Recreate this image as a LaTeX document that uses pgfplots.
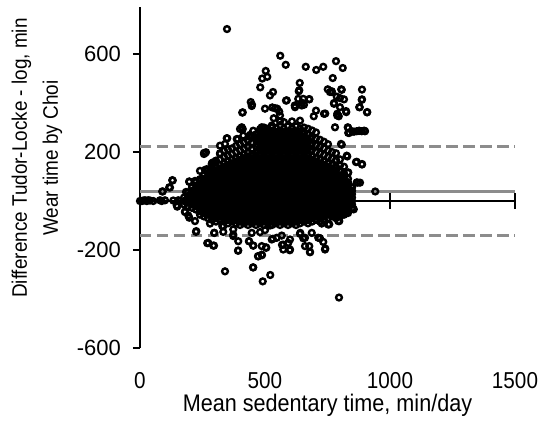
\documentclass[border=0pt]{standalone}
\usepackage{pgfplots}
\pgfplotsset{compat=1.18}
\usepackage{fontspec}
\setmainfont{Liberation Sans}[FakeStretch=0.9]
\newfontfamily\ytickfont{Liberation Sans}
\definecolor{refgray}{RGB}{140,140,140}

\begin{document}
\begin{tikzpicture}
\path[use as bounding box] (-140pt,-74pt) rectangle (403pt,348pt);
\begin{axis}[
    scale only axis,
    width=375pt, height=341pt,
    xmin=0, xmax=1500, ymin=-600, ymax=792,
    clip=false,
    axis lines*=left,
    axis line style={line width=1.3pt, black},
    x axis line style={draw=none},
    xtick={0,500,1000,1500},
    ytick={-600,-200,200,600},
    xtick style={draw=none},
    ytick style={line width=1.3pt, black},
    tick align=outside,
    major tick length=7pt,
    /pgf/number format/assume math mode=true,
    /pgf/number format/1000 sep={},
    xticklabel style={font=\fontsize{23}{27}\selectfont, anchor=base, inner sep=0pt, yshift=-34pt},
    yticklabel style={font=\ytickfont\fontsize{22}{26}\selectfont, anchor=east, inner sep=0pt, xshift=-12pt},
    xlabel={Mean sedentary time, min/day},
    xlabel style={font=\fontsize{24}{28}\selectfont, at={(axis description cs:0.5,0)}, anchor=base, inner sep=0pt, yshift=-63.5pt},
    ylabel={Difference Tudor-Locke - log, min\\Wear time by Choi},
    ylabel style={font=\fontsize{21}{31}\selectfont, align=center, at={(axis description cs:-0.275,0.557)}, anchor=center},
]
% mean and limits of agreement
\addplot[refgray, line width=3.3pt] coordinates {(0,40) (1500,40)};
\addplot[refgray, line width=3.3pt, dash pattern=on 11.5pt off 5.5pt] coordinates {(0,222) (1500,222)};
\addplot[refgray, line width=3.3pt, dash pattern=on 11.5pt off 5.5pt] coordinates {(0,-142) (1500,-142)};

% zero line with cross ticks
\draw[line width=1.3pt] (axis cs:0,0) -- (axis cs:1500,0);
\pgfplotsinvokeforeach{500,1000,1500}{
  \draw[line width=1.3pt] (axis cs:#1,-33) -- (axis cs:#1,33);
}

% individual participants
\addplot[only marks, mark=o, mark size=2.9pt, mark options={line width=2.4pt, black}] coordinates {
(348,702) (561,593) (583,556) (663,548) (705,535) (733,548) (784,571) (811,543) (503,531) (489,500) (509,507) (771,502)
(481,464) (532,445) (639,482) (637,452) (677,416) (751,456) (760,445) (805,456) (800,420) (816,415) (888,455) (888,415)
(879,383) (908,362) (411,362) (443,404) (448,393) (500,377) (529,382) (549,377) (587,411) (619,390) (648,401) (656,393)
(695,346) (741,357) (795,346) (825,363) (411,294) (481,294) (528,301) (560,325) (535,338) (831,301) (849,284) (876,286)
(899,286) (347,256) (391,253) (436,263) (256,196) (264,199) (864,159) (888,149) (827,185) (867,76) (941,39) (131,84)
(117,56) (89,39) (855,-34)
(225,-123) (269,-172) (296,-182) (340,-287) (392,-203) (452,-271) (491,-328) (521,-302) (472,-225) (488,-221) (436,-164)
(453,-182) (505,-191) (568,-179) (573,-198) (599,-201) (677,-184) (680,-208) (741,-194) (796,-394) (720,-152) (653,-152)
(531,-154) (373,-143) (297,-130) (329,-102) (373,-116) (641,-130) (757,-95) (793,-82) (853,-31) (827,-48)
(0,0) (7,0) (13,2) (20,3) (27,0) (33,3) (40,2) (53,0) (80,3) (87,0) (100,3) (133,2) (153,3) (160,0) (149,-23) (180,-45)
(197,-68) (197,78) (184,37) (147,-18)
(520,431) (635,448) (633,417) (767,448) (584,410) (653,417) (677,415) (447,388) (409,361) (540,379) (557,365) (560,349)
(620,383) (647,390) (704,369) (736,356) (776,397) (789,356) (787,426) (407,301) (487,301) (527,308) (640,328)
(807,454) (767,445) (887,413) (776,400) (877,383) (909,363) (800,383) (824,367) (789,349) (833,298) (856,283) (877,287)
(896,287) (833,278) (807,230) (780,301)
(837,278) (867,285) (887,285) (900,285) (804,233) (867,160) (888,151) (829,182) (833,117) (871,75) (847,55) (816,69)
(784,89) (880,75)
(129,85) (120,55) (91,39) (197,80) (240,123) (260,127) (260,196) (256,192) (320,226) (349,256) (400,294) (220,82)
(240,89) (287,151) (300,158)
(180,-43) (193,-59) (220,-82) (224,-126) (280,-92) (297,-130) (273,-171) (293,-182) (333,-103) (333,-126) (373,-137)
(393,-164) (393,-202) (436,-164) (453,-182) (453,-271) (473,-226) (487,-219) (487,-184) (504,-189) (527,-157) (547,-150)
(567,-141) (573,-178) (593,-171) (600,-198) (447,-130) (480,-127) (500,-119) (520,-100)
(600,-157) (660,-184) (680,-209) (640,-134) (660,-150) (687,-130) (713,-150) (733,-167) (740,-198) (727,-92) (753,-96)
(797,-82) (800,-55) (820,-48)
(320,192) (293,158) (267,130) (280,117) (293,103) (253,89) (273,82) (340,233) (387,253) (413,267) (440,270) (473,274)
(453,287) (507,281) (553,283) (587,281)
% upper part of the cloud
(472,205) (472,231) (472,257) (488,205) (488,231) (488,257) (488,283) (504,205) (504,231) (504,257) (504,283)
(520,205) (520,231) (520,257) (520,283) (536,205) (536,231) (536,257) (536,283) (552,205) (552,231) (552,257) (552,283)
(568,205) (568,231) (568,257) (568,283) (584,205) (584,231) (584,257) (584,283) (600,205) (600,231) (600,257) (600,283)
(616,205) (616,231) (616,257) (616,283) (632,205) (632,231) (632,257) (632,283) (648,205) (648,231) (648,257) (648,283)
(664,205) (664,231) (664,257) (680,205) (680,231) (680,257)
% dense core
(176,-14) (176,0) (176,14)
(192,-21) (192,-7) (192,7) (192,21) (192,35)
(208,-28) (208,-14) (208,0) (208,14) (208,28) (208,42) (208,56)
(224,-35) (224,-21) (224,-7) (224,7) (224,21) (224,35) (224,49) (224,63) (224,77)
(240,-56) (240,-42) (240,-28) (240,-14) (240,0) (240,14) (240,28) (240,42) (240,56) (240,70) (240,84)
(256,-63) (256,-49) (256,-35) (256,-21) (256,-7) (256,7) (256,21) (256,35) (256,49) (256,63) (256,77) (256,91) (256,105)
(272,-70) (272,-56) (272,-42) (272,-28) (272,-14) (272,0) (272,14) (272,28) (272,42) (272,56) (272,70) (272,84) (272,98) (272,112) (272,126)
(288,-77) (288,-63) (288,-49) (288,-35) (288,-21) (288,-7) (288,7) (288,21) (288,35) (288,49) (288,63) (288,77) (288,91) (288,105) (288,119) (288,133) (288,155)
(304,-84) (304,-70) (304,-56) (304,-42) (304,-28) (304,-14) (304,0) (304,14) (304,28) (304,42) (304,56) (304,70) (304,84) (304,98) (304,112) (304,126) (304,140) (304,165)
(320,-77) (320,-63) (320,-49) (320,-35) (320,-21) (320,-7) (320,7) (320,21) (320,35) (320,49) (320,63) (320,77) (320,91) (320,105) (320,119) (320,133) (320,147) (320,170) (320,195)
(336,-84) (336,-70) (336,-56) (336,-42) (336,-28) (336,-14) (336,0) (336,14) (336,28) (336,42) (336,56) (336,70) (336,84) (336,98) (336,112) (336,126) (336,140) (336,154) (336,180) (336,205)
(352,-91) (352,-77) (352,-63) (352,-49) (352,-35) (352,-21) (352,-7) (352,7) (352,21) (352,35) (352,49) (352,63) (352,77) (352,91) (352,105) (352,119) (352,133) (352,147) (352,161) (352,185) (352,210)
(368,-84) (368,-70) (368,-56) (368,-42) (368,-28) (368,-14) (368,0) (368,14) (368,28) (368,42) (368,56) (368,70) (368,84) (368,98) (368,112) (368,126) (368,140) (368,154) (368,168) (368,192) (368,215)
(384,-91) (384,-77) (384,-63) (384,-49) (384,-35) (384,-21) (384,-7) (384,7) (384,21) (384,35) (384,49) (384,63) (384,77) (384,91) (384,105) (384,119) (384,133) (384,147) (384,161) (384,175) (384,200) (384,225)
(400,-98) (400,-84) (400,-70) (400,-56) (400,-42) (400,-28) (400,-14) (400,0) (400,14) (400,28) (400,42) (400,56) (400,70) (400,84) (400,98) (400,112) (400,126) (400,140) (400,154) (400,168) (400,182) (400,207) (400,232)
(416,-91) (416,-77) (416,-63) (416,-49) (416,-35) (416,-21) (416,-7) (416,7) (416,21) (416,35) (416,49) (416,63) (416,77) (416,91) (416,105) (416,119) (416,133) (416,147) (416,161) (416,175) (416,189) (416,213) (416,238)
(432,-98) (432,-84) (432,-70) (432,-56) (432,-42) (432,-28) (432,-14) (432,0) (432,14) (432,28) (432,42) (432,56) (432,70) (432,84) (432,98) (432,112) (432,126) (432,140) (432,154) (432,168) (432,182) (432,196) (432,220) (432,245)
(448,-91) (448,-77) (448,-63) (448,-49) (448,-35) (448,-21) (448,-7) (448,7) (448,21) (448,35) (448,49) (448,63) (448,77) (448,91) (448,105) (448,119) (448,133) (448,147) (448,161) (448,175) (448,189) (448,214) (448,240) (448,265)
(464,-98) (464,-84) (464,-70) (464,-56) (464,-42) (464,-28) (464,-14) (464,0) (464,14) (464,28) (464,42) (464,56) (464,70) (464,84) (464,98) (464,112) (464,126) (464,140) (464,154) (464,168) (464,182) (464,196) (464,222) (464,248) (464,272)
(480,-91) (480,-77) (480,-63) (480,-49) (480,-35) (480,-21) (480,-7) (480,7) (480,21) (480,35) (480,49) (480,63) (480,77) (480,91) (480,105) (480,119) (480,133) (480,147) (480,161) (480,175) (480,189) (480,215) (480,240) (480,265) (480,290)
(496,-98) (496,-84) (496,-70) (496,-56) (496,-42) (496,-28) (496,-14) (496,0) (496,14) (496,28) (496,42) (496,56) (496,70) (496,84) (496,98) (496,112) (496,126) (496,140) (496,154) (496,168) (496,182) (496,196) (496,222) (496,248) (496,275) (496,300)
(512,-91) (512,-77) (512,-63) (512,-49) (512,-35) (512,-21) (512,-7) (512,7) (512,21) (512,35) (512,49) (512,63) (512,77) (512,91) (512,105) (512,119) (512,133) (512,147) (512,161) (512,175) (512,189) (512,215) (512,242) (512,268) (512,295)
(528,-98) (528,-84) (528,-70) (528,-56) (528,-42) (528,-28) (528,-14) (528,0) (528,14) (528,28) (528,42) (528,56) (528,70) (528,84) (528,98) (528,112) (528,126) (528,140) (528,154) (528,168) (528,182) (528,196) (528,222) (528,250) (528,278) (528,305)
(544,-91) (544,-77) (544,-63) (544,-49) (544,-35) (544,-21) (544,-7) (544,7) (544,21) (544,35) (544,49) (544,63) (544,77) (544,91) (544,105) (544,119) (544,133) (544,147) (544,161) (544,175) (544,189) (544,216) (544,243) (544,270) (544,298)
(560,-98) (560,-84) (560,-70) (560,-56) (560,-42) (560,-28) (560,-14) (560,0) (560,14) (560,28) (560,42) (560,56) (560,70) (560,84) (560,98) (560,112) (560,126) (560,140) (560,154) (560,168) (560,182) (560,196) (560,224) (560,252) (560,280) (560,310)
(576,-91) (576,-77) (576,-63) (576,-49) (576,-35) (576,-21) (576,-7) (576,7) (576,21) (576,35) (576,49) (576,63) (576,77) (576,91) (576,105) (576,119) (576,133) (576,147) (576,161) (576,175) (576,189) (576,215) (576,241) (576,268) (576,295) (576,322)
(592,-98) (592,-84) (592,-70) (592,-56) (592,-42) (592,-28) (592,-14) (592,0) (592,14) (592,28) (592,42) (592,56) (592,70) (592,84) (592,98) (592,112) (592,126) (592,140) (592,154) (592,168) (592,182) (592,196) (592,222) (592,250) (592,278) (592,305)
(608,-91) (608,-77) (608,-63) (608,-49) (608,-35) (608,-21) (608,-7) (608,7) (608,21) (608,35) (608,49) (608,63) (608,77) (608,91) (608,105) (608,119) (608,133) (608,147) (608,161) (608,175) (608,189) (608,216) (608,243) (608,270) (608,298) (608,325)
(624,-98) (624,-84) (624,-70) (624,-56) (624,-42) (624,-28) (624,-14) (624,0) (624,14) (624,28) (624,42) (624,56) (624,70) (624,84) (624,98) (624,112) (624,126) (624,140) (624,154) (624,168) (624,182) (624,196) (624,222) (624,250) (624,278) (624,305)
(640,-91) (640,-77) (640,-63) (640,-49) (640,-35) (640,-21) (640,-7) (640,7) (640,21) (640,35) (640,49) (640,63) (640,77) (640,91) (640,105) (640,119) (640,133) (640,147) (640,161) (640,175) (640,189) (640,215) (640,242) (640,268) (640,296)
(656,-84) (656,-70) (656,-56) (656,-42) (656,-28) (656,-14) (656,0) (656,14) (656,28) (656,42) (656,56) (656,70) (656,84) (656,98) (656,112) (656,126) (656,140) (656,154) (656,168) (656,182) (656,196) (656,222) (656,248) (656,275) (656,300)
(672,-91) (672,-77) (672,-63) (672,-49) (672,-35) (672,-21) (672,-7) (672,7) (672,21) (672,35) (672,49) (672,63) (672,77) (672,91) (672,105) (672,119) (672,133) (672,147) (672,161) (672,175) (672,189) (672,215) (672,242) (672,270) (672,295)
(688,-84) (688,-70) (688,-56) (688,-42) (688,-28) (688,-14) (688,0) (688,14) (688,28) (688,42) (688,56) (688,70) (688,84) (688,98) (688,112) (688,126) (688,140) (688,154) (688,168) (688,182) (688,208) (688,235) (688,262) (688,288)
(704,-77) (704,-63) (704,-49) (704,-35) (704,-21) (704,-7) (704,7) (704,21) (704,35) (704,49) (704,63) (704,77) (704,91) (704,105) (704,119) (704,133) (704,147) (704,161) (704,175) (704,200) (704,228) (704,255) (704,280)
(720,-84) (720,-70) (720,-56) (720,-42) (720,-28) (720,-14) (720,0) (720,14) (720,28) (720,42) (720,56) (720,70) (720,84) (720,98) (720,112) (720,126) (720,140) (720,154) (720,168) (720,195) (720,222) (720,250)
(736,-77) (736,-63) (736,-49) (736,-35) (736,-21) (736,-7) (736,7) (736,21) (736,35) (736,49) (736,63) (736,77) (736,91) (736,105) (736,119) (736,133) (736,147) (736,161) (736,188) (736,215) (736,242)
(752,-70) (752,-56) (752,-42) (752,-28) (752,-14) (752,0) (752,14) (752,28) (752,42) (752,56) (752,70) (752,84) (752,98) (752,112) (752,126) (752,140) (752,154) (752,180) (752,206) (752,232)
(768,-63) (768,-49) (768,-35) (768,-21) (768,-7) (768,7) (768,21) (768,35) (768,49) (768,63) (768,77) (768,91) (768,105) (768,119) (768,133) (768,147) (768,175) (768,200)
(784,-70) (784,-56) (784,-42) (784,-28) (784,-14) (784,0) (784,14) (784,28) (784,42) (784,56) (784,70) (784,84) (784,98) (784,112) (784,126) (784,140) (784,168) (784,195)
(800,-63) (800,-49) (800,-35) (800,-21) (800,-7) (800,7) (800,21) (800,35) (800,49) (800,63) (800,77) (800,91) (800,105) (800,119) (800,145) (800,170)
(816,-56) (816,-42) (816,-28) (816,-14) (816,0) (816,14) (816,28) (816,42) (816,56) (816,70) (816,84) (816,98) (816,112) (816,140)
(832,-49) (832,-35) (832,-21) (832,-7) (832,7) (832,21) (832,35) (832,49) (832,63) (832,77) (832,91) (832,115)
(848,-28) (848,-14) (848,0) (848,14) (848,28) (848,42) (848,56)
};
\end{axis}
\end{tikzpicture}
\end{document}
